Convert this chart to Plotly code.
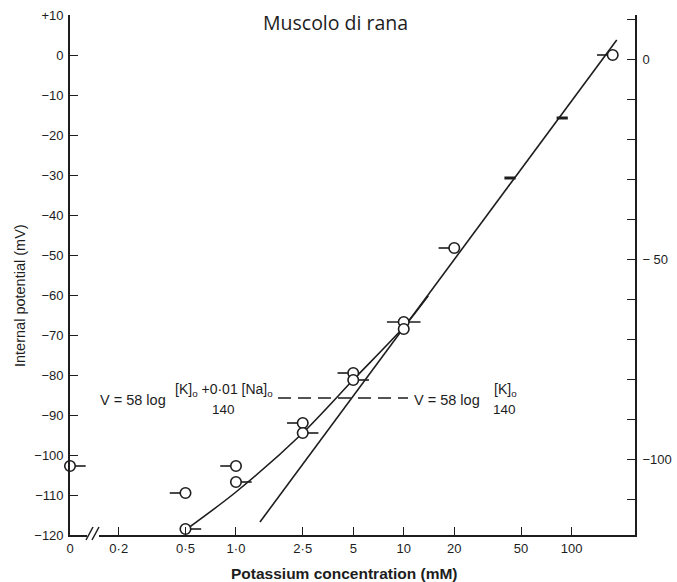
import math
import plotly.graph_objects as go

# ---- data: membrane potential of frog muscle vs external potassium ----
# open circles (K in mM, 0 = potassium-free Ringer; V in mV)
K_OPEN = [0, 0.5, 0.5, 1.0, 1.0, 2.5, 2.5, 5, 5, 10, 10, 20, 176]
V_OPEN = [-102.75, -118.5, -109.5, -102.75, -106.75, -92.0, -94.5, -79.5, -81.25, -66.75, -68.5, -48.25, 0.0]
# side of the short bar attached to each circle: r = right, l = left, b = both, "" = none
TAIL_OPEN = ["r", "r", "l", "l", "r", "l", "r", "l", "r", "b", "", "l", "l"]

# points drawn as short bars
K_BAR = [43, 88]
V_BAR = [-30.75, -15.75]

# V = 58 log [K]o/140  (straight line on the log axis)
LINE_K = [1.39, 186]
LINE_V = [-116.75, 3.75]

# V = 58 log ([K]o + 0.01[Na]o)/140
CURVE_K = [0.5, 1.0, 2.5, 5.0, 10, 14]
CURVE_V = [-118.75, -109.25, -94.5, -81.2, -68.0, -60.2]

# dashed guide joining the two equations
GUIDE_K = [1.78, 10.6]
GUIDE_V = [-85.75, -85.75]

X_TICK_VALS = [0, 0.2, 0.5, 1.0, 2.5, 5, 10, 20, 50, 100]
X_TICK_TEXT = ["0", "0·2", "0·5", "1·0", "2·5", "5", "10", "20", "50", "100"]
Y_TICK_VALS = list(range(10, -121, -10))
Y2_TICK_VALS = [0, -50, -100]
Y2_TICK_TEXT = ["0", "− 50", "−100"]

# ---- styling ----
INK = "#1d1d1d"
FONT = "Liberation Sans Narrow, Liberation Sans, Arial, sans-serif"
X_ZERO = 0.1025      # plotting position used for zero concentration
X_MAX = 239.0
W, H = 677, 582
ML, MR, MT, MB = 70, 42, 15, 47
PW, PH = W - ML - MR, H - MT - MB
TAIL_DEC = 8.0 / 167.8   # ~8 px expressed in decades on the x axis


def xpos(k):
    return X_ZERO if k == 0 else k


def px(x):
    return (x - ML) / PW


def py(y):
    return (H - MB - y) / PH


fig = go.Figure()

fig.add_trace(go.Scatter(
    x=GUIDE_K, y=GUIDE_V, mode="lines",
    line=dict(color=INK, width=1.3, dash="13px,7px"), hoverinfo="skip"))

fig.add_trace(go.Scatter(
    x=LINE_K, y=LINE_V, mode="lines",
    line=dict(color=INK, width=1.6), hoverinfo="skip"))

fig.add_trace(go.Scatter(
    x=CURVE_K, y=CURVE_V, mode="lines",
    line=dict(color=INK, width=1.6, shape="spline", smoothing=0.8), hoverinfo="skip"))

# short bars attached to the circles
tx, ty, bx, by = [], [], [], []
for k, v, side in zip(K_OPEN, V_OPEN, TAIL_OPEN):
    x = xpos(k)
    if side == "r":
        tx.append(x * 10 ** TAIL_DEC); ty.append(v)
    elif side == "l":
        tx.append(x / 10 ** TAIL_DEC); ty.append(v)
    elif side == "b":
        bx.append(x); by.append(v)
fig.add_trace(go.Scatter(
    x=tx, y=ty, mode="markers",
    marker=dict(symbol="line-ew", size=11, line=dict(color=INK, width=1.6)),
    hoverinfo="skip"))
fig.add_trace(go.Scatter(
    x=bx, y=by, mode="markers",
    marker=dict(symbol="line-ew", size=24, line=dict(color=INK, width=1.6)),
    hoverinfo="skip"))

# bar-type points
fig.add_trace(go.Scatter(
    x=K_BAR, y=V_BAR, mode="markers",
    marker=dict(symbol="line-ew", size=8, line=dict(color=INK, width=3)),
    hoverinfo="skip"))

# open circles
fig.add_trace(go.Scatter(
    x=[xpos(k) for k in K_OPEN], y=V_OPEN, mode="markers",
    marker=dict(symbol="circle", size=10.5, color="white", line=dict(color=INK, width=1.6)),
    hoverinfo="skip", cliponaxis=False))

# carrier for the right-hand axis
fig.add_trace(go.Scatter(x=[X_ZERO], y=[None], yaxis="y2", mode="markers",
                         hoverinfo="skip", showlegend=False))

# ---- annotations ----
def note(x, y, text, size, xanchor="center", **kw):
    return dict(x=px(x), y=py(y), xref="paper", yref="paper", text=text,
                xanchor=xanchor, yanchor="middle", showarrow=False,
                font=dict(family=kw.pop("family", FONT), size=size, color=INK), **kw)


ann = [
    note(335, 23, "Muscolo di rana", 19.5, family="Open Sans, sans-serif"),
    note(344, 573, "<b>Potassium concentration (mM)</b>", 15.5),
    note(20, 296, "Internal potential (mV)", 14.5, textangle=-90),
    # left equation
    note(168, 400, "V = 58 log", 14.5, xanchor="right"),
    note(224, 390, "[K]<sub>o</sub> +0·01 [Na]<sub>o</sub>", 14),
    note(223, 409, "140", 13.5),
    # right equation
    note(412, 400, "V = 58 log", 14.5, xanchor="left"),
    note(505, 390, "[K]<sub>o</sub>", 14),
    note(504, 409, "140", 13.5),
]

# axis break marks on the x axis
shapes = [
    dict(type="rect", xref="paper", yref="paper", x0=px(87), x1=px(99), y0=py(538), y1=py(532),
         fillcolor="white", line=dict(width=0), layer="above"),
    dict(type="line", xref="paper", yref="paper", x0=px(86), x1=px(93), y0=py(540), y1=py(527),
         line=dict(color=INK, width=1.5), layer="above"),
    dict(type="line", xref="paper", yref="paper", x0=px(92), x1=px(99), y0=py(540), y1=py(527),
         line=dict(color=INK, width=1.5), layer="above"),
]

tickfont = dict(family=FONT, size=13, color=INK)
fig.update_layout(
    width=W, height=H,
    margin=dict(l=ML, r=MR, t=MT, b=MB),
    paper_bgcolor="white", plot_bgcolor="white",
    showlegend=False,
    annotations=ann, shapes=shapes,
    xaxis=dict(type="log", range=[math.log10(X_ZERO), math.log10(X_MAX)],
               tickvals=[xpos(k) for k in X_TICK_VALS], ticktext=X_TICK_TEXT,
               ticks="inside", ticklen=8, tickwidth=1.4, tickcolor=INK,
               showline=True, linecolor=INK, linewidth=1.6, automargin=False,
               showgrid=False, zeroline=False, tickfont=tickfont, ticklabelstandoff=1),
    yaxis=dict(range=[-120, 10], tickvals=Y_TICK_VALS,
               ticktext=["+10" if v > 0 else ("0" if v == 0 else "−%d" % -v) for v in Y_TICK_VALS],
               ticks="inside", ticklen=8, tickwidth=1.4, tickcolor=INK,
               showline=True, linecolor=INK, linewidth=1.6, automargin=False,
               showgrid=False, zeroline=False, tickfont=tickfont, ticklabelstandoff=2),
    yaxis2=dict(range=[-119, 11], overlaying="y", side="right",
                tickvals=Y2_TICK_VALS, ticktext=Y2_TICK_TEXT,
                ticks="inside", ticklen=8, tickwidth=1.4, tickcolor=INK,
                minor=dict(dtick=10, tick0=0, ticks="inside", ticklen=8,
                           tickwidth=1.4, tickcolor=INK, showgrid=False),
                showline=True, linecolor=INK, linewidth=1.6, automargin=False,
                showgrid=False, zeroline=False, tickfont=tickfont, ticklabelstandoff=3),
)

fig.write_html("out.html")
